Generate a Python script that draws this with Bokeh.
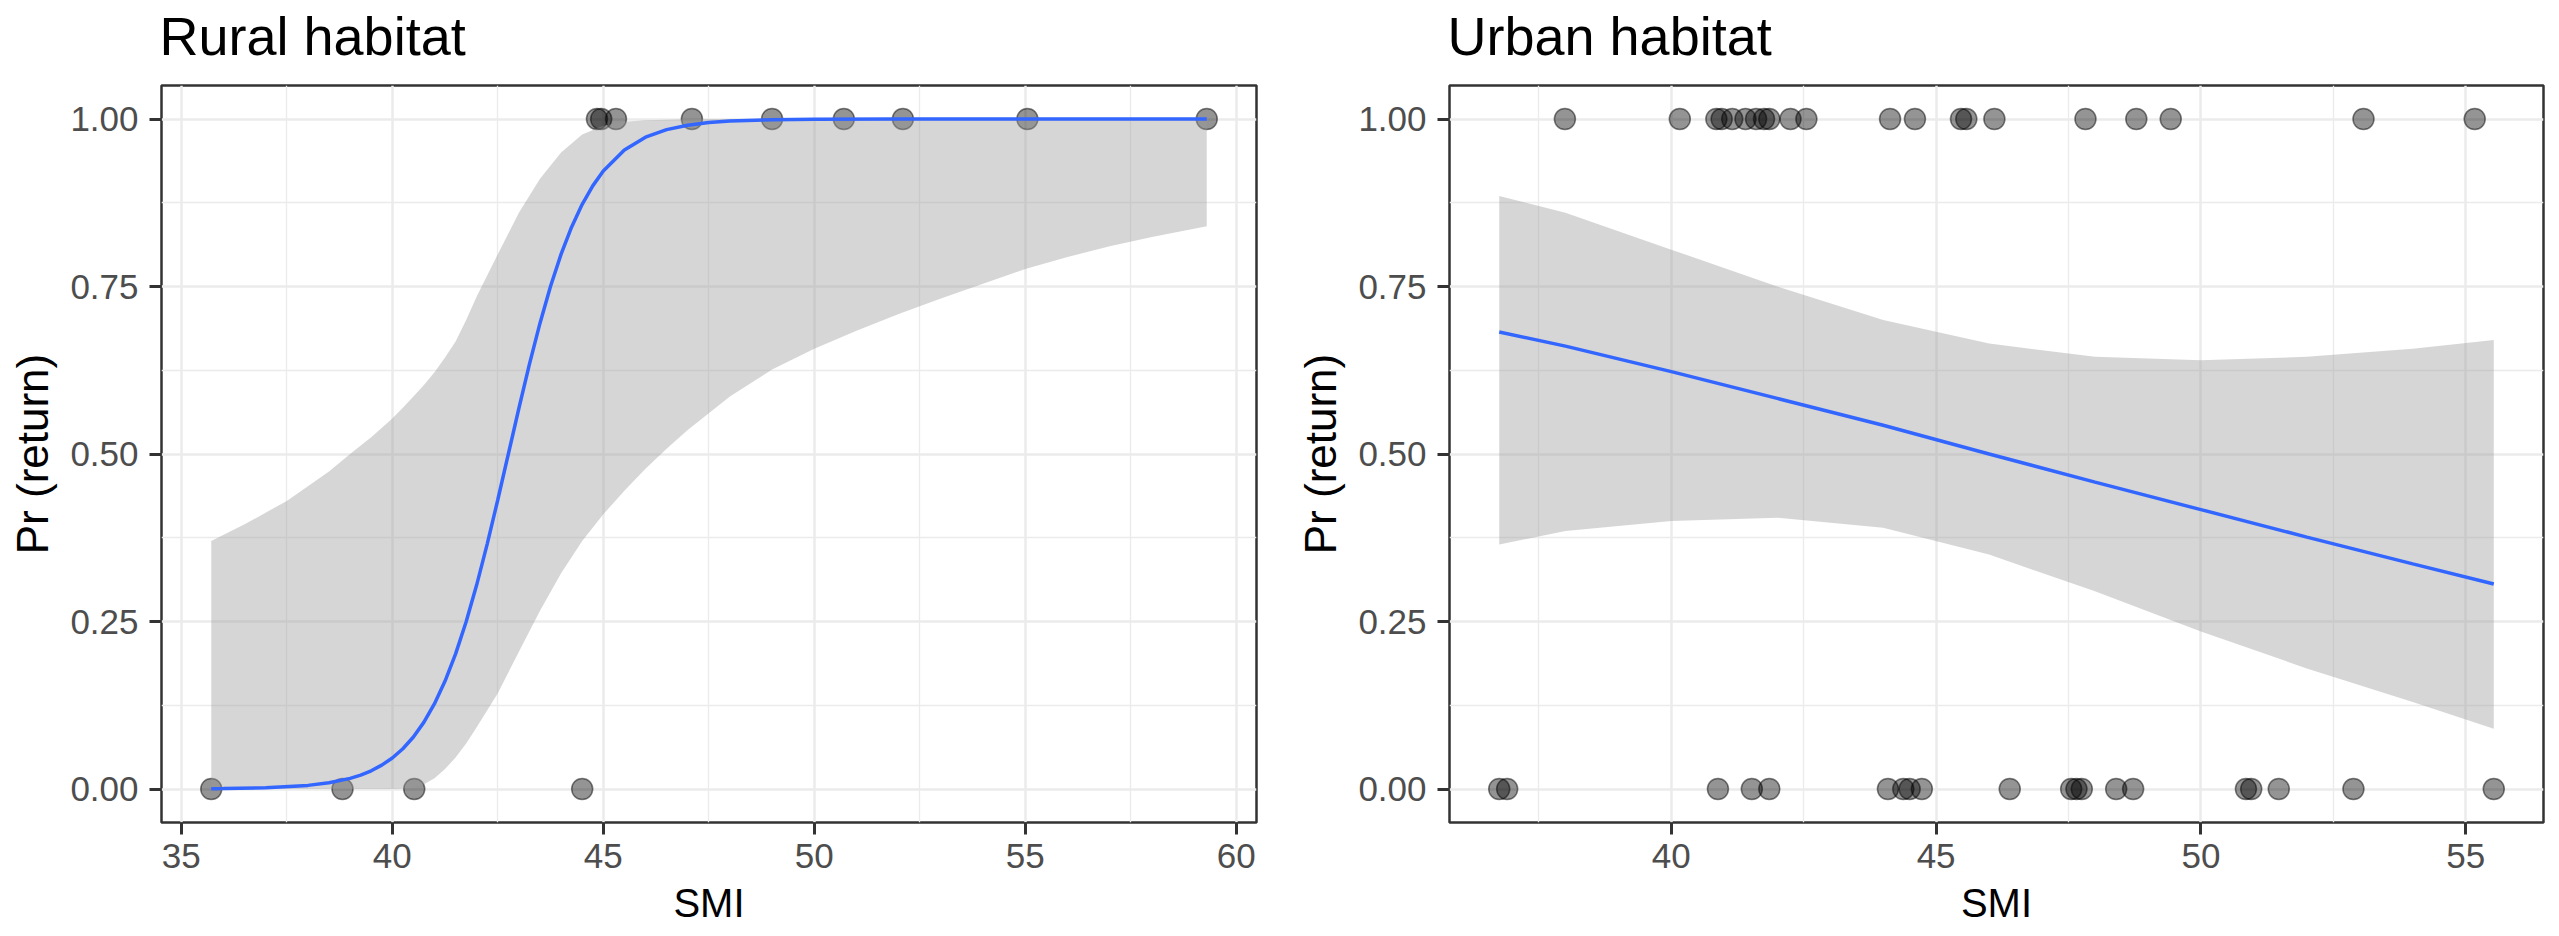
from bokeh.plotting import figure
from bokeh.layouts import row, column
from bokeh.models import Range1d, FixedTicker
from bokeh.core.properties import value
from bokeh.embed import file_html
from bokeh.resources import INLINE

# ---------------- data ----------------
# Rural habitat: observed returns (0 / 1) by SMI
rural_x_ret0 = [35.71, 38.82, 40.52, 44.50]
rural_x_ret1 = [44.85, 44.95, 45.30, 47.10, 49.00, 50.70, 52.10, 55.05, 59.30]
# fitted curve
rural_fit_x = [35.71, 36.0, 37.0, 38.0, 38.5, 39.0, 39.25, 39.5, 39.75, 40.0, 40.25, 40.5, 40.75,
               41.0, 41.25, 41.5, 41.75, 42.0, 42.25, 42.5, 42.75, 43.0, 43.25, 43.5, 43.75,
               44.0, 44.25, 44.5, 44.75, 45.0, 45.5, 46.0, 46.5, 47.0, 47.5, 48.0, 49.0, 50.0,
               52.0, 55.0, 59.3]
rural_fit_y = [0.0004, 0.0006, 0.0018, 0.0054, 0.0092, 0.0159, 0.0208, 0.0272, 0.0356, 0.0463,
               0.0601, 0.0776, 0.0998, 0.1273, 0.1611, 0.2017, 0.2497, 0.3047, 0.3659, 0.4317,
               0.5000, 0.5683, 0.6341, 0.6953, 0.7503, 0.7983, 0.8389, 0.8727, 0.9002, 0.9224,
               0.9537, 0.9728, 0.9841, 0.9908, 0.9947, 0.9969, 0.9990, 0.9997, 1.0, 1.0, 1.0]
# confidence band
rural_band_x = [35.71, 36.5, 37.5, 38.5, 39.0, 39.5, 40.0, 40.25, 40.5, 40.75, 41.0, 41.25,
                41.5, 41.75, 42.0, 42.5, 43.0, 43.5, 44.0, 44.5, 45.0, 45.5, 46.0, 46.5,
                47.0, 48.0, 49.0, 50.0, 51.0, 52.0, 53.0, 54.0, 55.0, 56.0, 57.0, 58.0, 59.3]
rural_lo = [0.0, 0.0, 0.0, 0.0, 0.0, 0.0, 0.0, 0.0005, 0.002, 0.007, 0.016, 0.03,
            0.047, 0.068, 0.092, 0.143, 0.205, 0.266, 0.322, 0.37, 0.41, 0.445, 0.478, 0.508,
            0.536, 0.586, 0.626, 0.657, 0.684, 0.709, 0.732, 0.754, 0.776, 0.794, 0.81, 0.824, 0.84]
rural_hi = [0.37, 0.395, 0.43, 0.474, 0.50, 0.525, 0.553, 0.569, 0.586, 0.603, 0.622, 0.644,
            0.668, 0.70, 0.735, 0.798, 0.860, 0.911, 0.950, 0.977, 0.990, 0.996, 0.998, 0.999,
            0.9995, 1.0, 1.0, 1.0, 1.0, 1.0, 1.0, 1.0, 1.0, 1.0, 1.0, 1.0, 1.0]

# Urban habitat
urban_x_ret0 = [36.75, 36.90, 40.88, 41.52, 41.85, 44.09, 44.38, 44.50, 44.73, 46.39,
                47.55, 47.65, 47.75, 48.40, 48.72, 50.85, 50.95, 51.47, 52.88, 55.53]
urban_x_ret1 = [37.99, 40.16, 40.85, 40.95, 41.15, 41.40, 41.60, 41.75, 41.85, 42.25, 42.55,
                44.13, 44.60, 45.47, 45.57, 46.10, 47.82, 48.78, 49.43, 53.07, 55.17]
urban_fit_x = [36.75, 38.0, 40.0, 42.0, 44.0, 46.0, 48.0, 50.0, 52.0, 54.0, 55.53]
urban_fit_y = [0.682, 0.661, 0.623, 0.583, 0.543, 0.500, 0.458, 0.417, 0.376, 0.336, 0.306]
urban_band_x = urban_fit_x
urban_lo = [0.365, 0.385, 0.400, 0.405, 0.390, 0.350, 0.295, 0.235, 0.180, 0.130, 0.090]
urban_hi = [0.885, 0.860, 0.805, 0.750, 0.700, 0.665, 0.645, 0.640, 0.645, 0.657, 0.670]

# ticks
rural_x_ticks = [35, 40, 45, 50, 55, 60]
rural_x_labels = ["35", "40", "45", "50", "55", "60"]
rural_x_minor = [37.5, 42.5, 47.5, 52.5, 57.5]
urban_x_ticks = [40, 45, 50, 55]
urban_x_labels = ["40", "45", "50", "55"]
urban_x_minor = [37.5, 42.5, 47.5, 52.5]
y_ticks = [0.0, 0.25, 0.5, 0.75, 1.0]
y_labels = ["0.00", "0.25", "0.50", "0.75", "1.00"]
y_minor = [0.125, 0.375, 0.625, 0.875]

titles = ["Rural habitat", "Urban habitat"]
x_title = "SMI"
y_title = "Pr (return)"

FONT = "Liberation Sans"

# layout constants (pixels)
W1, W2 = 1278, 1279
BL1, BL2 = 161, 171          # frame left offsets inside each panel figure
TITLE_H = 81                 # strip holding the panel titles
MAIN_H = 855
TOP = 4
FRAME_H = 737


def panel(x0, x1, fx, fy, bx, lo, hi, xt, xl, xm, width, bl, br):
    allx = x0 + x1
    xmin, xmax = min(allx), max(allx)
    pad = 0.05 * (xmax - xmin)
    p = figure(width=width, height=MAIN_H, output_backend="svg", toolbar_location=None,
               x_range=Range1d(xmin - pad, xmax + pad), y_range=Range1d(-0.05, 1.05),
               min_border_left=bl, min_border_right=br, min_border_top=TOP,
               min_border_bottom=MAIN_H - TOP - FRAME_H)
    p.background_fill_color = "white"
    p.border_fill_color = "white"
    p.outline_line_color = "#333333"
    p.outline_line_width = 2.5

    # points
    p.scatter(x0, [0.0] * len(x0), size=21, fill_color="black", fill_alpha=0.42,
              line_color="black", line_alpha=0.5, line_width=1.5)
    p.scatter(x1, [1.0] * len(x1), size=21, fill_color="black", fill_alpha=0.42,
              line_color="black", line_alpha=0.5, line_width=1.5)
    # confidence band + fit
    p.varea(x=bx, y1=lo, y2=hi, fill_color="#999999", fill_alpha=0.4)
    p.line(fx, fy, line_color="#3366FF", line_width=3.5)

    p.xaxis.ticker = FixedTicker(ticks=xt, minor_ticks=xm)
    p.yaxis.ticker = FixedTicker(ticks=y_ticks, minor_ticks=y_minor)
    p.xaxis.major_label_overrides = {t: l for t, l in zip(xt, xl)}
    p.yaxis.major_label_overrides = {t: l for t, l in zip(y_ticks, y_labels)}

    for ax in (p.xaxis, p.yaxis):
        ax.axis_line_color = None
        ax.major_tick_line_color = "#333333"
        ax.major_tick_line_width = 3
        ax.major_tick_out = 12
        ax.major_tick_in = 0
        ax.minor_tick_line_color = None
        ax.major_label_text_font = FONT
        ax.major_label_text_font_size = "35px"
        ax.major_label_text_color = "#4D4D4D"
        ax.axis_label_text_font = FONT
        ax.axis_label_text_font_style = "normal"
        ax.axis_label_text_color = "black"
    p.xaxis.axis_label_text_font_size = "40px"
    p.yaxis.axis_label_text_font_size = "44px"
    p.xaxis.major_label_text_line_height = 1.0
    p.xaxis.axis_label_text_line_height = 1.0
    p.xaxis.axis_label = x_title
    p.yaxis.axis_label = y_title
    p.xaxis.major_label_standoff = 9
    p.yaxis.major_label_standoff = 11
    p.xaxis.axis_label_standoff = 10
    p.yaxis.axis_label_standoff = 10

    for g in (p.xgrid, p.ygrid):
        g.grid_line_color = "#EBEBEB"
        g.grid_line_width = 2.5
        g.minor_grid_line_color = "#EBEBEB"
        g.minor_grid_line_width = 1.3
    return p


p1 = panel(rural_x_ret0, rural_x_ret1, rural_fit_x, rural_fit_y, rural_band_x,
           rural_lo, rural_hi, rural_x_ticks, rural_x_labels, rural_x_minor, W1, BL1, 22)
p2 = panel(urban_x_ret0, urban_x_ret1, urban_fit_x, urban_fit_y, urban_band_x,
           urban_lo, urban_hi, urban_x_ticks, urban_x_labels, urban_x_minor, W2, BL2, 14)

# title strip: one text per panel, aligned with each panel's frame
tw = W1 + W2
t = figure(width=tw, height=TITLE_H, output_backend="svg", toolbar_location=None,
           x_range=Range1d(0, tw), y_range=Range1d(0, TITLE_H),
           x_axis_location=None, y_axis_location=None,
           min_border_left=0, min_border_right=0, min_border_top=0, min_border_bottom=0)
t.outline_line_color = None
t.grid.visible = False
t.background_fill_color = "white"
t.border_fill_color = "white"
t.text(x=[BL1 - 2, W1 + BL2 - 2], y=[TITLE_H - 35, TITLE_H - 35], text=titles,
       text_font=value(FONT), text_font_size=value("54px"), text_color="black",
       text_align="left", text_baseline="alphabetic")

layout = column(t, row(p1, p2))
open("out.html", "w").write(file_html(layout, INLINE))
